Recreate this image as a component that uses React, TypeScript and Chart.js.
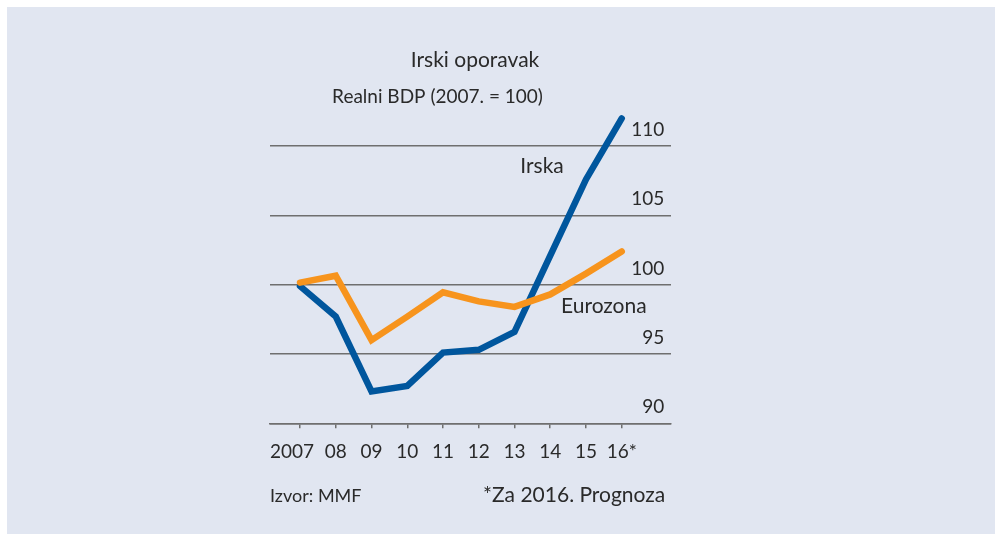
import React, { useEffect, useRef } from 'react';
import { Chart, registerables } from 'chart.js';

Chart.register(...registerables);

// ---- data ----
const years = ['2007', '08', '09', '10', '11', '12', '13', '14', '15', '16*'];
const irska = [99.9, 97.7, 92.3, 92.7, 95.1, 95.3, 96.6, 102.1, 107.6, 112.0];
const eurozona = [100.15, 100.65, 96.0, 97.7, 99.45, 98.8, 98.4, 99.3, 100.8, 102.4];
const yTicks = [90, 95, 100, 105, 110];

const titleText = 'Irski oporavak';
const subtitleText = 'Realni BDP (2007. = 100)';
const irskaLabel = 'Irska';
const eurozonaLabel = 'Eurozona';
const sourceText = 'Izvor: MMF';
const noteText = '*Za 2016. Prognoza';

// ---- styles ----
const BG = '#e1e6f1';
const BLUE = '#00569d';
const ORANGE = '#f7941d';
const GRID = '#6f6f6f';
const TEXT = '#2a2a2a';
const FONT = 'Lato';

export default function App() {
  const ref = useRef<HTMLCanvasElement>(null);

  useEffect(() => {
    const textPlugin = {
      id: 'texts',
      afterDraw(chart: any) {
        const ctx = chart.ctx as CanvasRenderingContext2D;
        const ca = chart.chartArea;
        const yScale = chart.scales.y;
        const xScale = chart.scales.x;
        ctx.save();
        ctx.fillStyle = TEXT;
        ctx.textBaseline = 'alphabetic';

        // y tick labels, right aligned above gridlines
        ctx.font = `19px ${FONT}`;
        ctx.textAlign = 'right';
        yTicks.forEach((v) => {
          ctx.fillText(String(v), ca.right - 6.5, yScale.getPixelForValue(v) - 10);
        });

        // x tick labels: first one starts at the plot's left edge, others centred on ticks
        ctx.font = `19px ${FONT}`;
        xScale.ticks.forEach((t: any, i: number) => {
          const label = years[t.value];
          if (label === undefined) return;
          if (i === 0) {
            ctx.textAlign = 'left';
            ctx.fillText(label, ca.left, ca.bottom + 34.4);
          } else {
            ctx.textAlign = 'center';
            ctx.fillText(label, xScale.getPixelForValue(t.value), ca.bottom + 34.4);
          }
        });

        // title / subtitle
        ctx.textAlign = 'center';
        ctx.font = `21px ${FONT}`;
        ctx.fillText(titleText, 468, 60);
        ctx.font = `19px ${FONT}`;
        ctx.fillText(subtitleText, 430.5, 96);

        // series labels
        ctx.font = `21px ${FONT}`;
        ctx.fillText(irskaLabel, xScale.getPixelForValue(6.77), yScale.getPixelForValue(108.06));
        ctx.fillText(eurozonaLabel, xScale.getPixelForValue(8.5), yScale.getPixelForValue(97.96));

        // footer
        ctx.font = `18px ${FONT}`;
        ctx.textAlign = 'left';
        ctx.fillText(sourceText, ca.left, 495);
        ctx.font = `21px ${FONT}`;
        ctx.textAlign = 'right';
        ctx.fillText(noteText, ca.right - 5.5, 495);
        ctx.restore();
      },
    };

    const chart = new Chart(ref.current!, {
      type: 'line',
      data: {
        datasets: [
          {
            label: eurozonaLabel,
            data: eurozona.map((v, i) => ({ x: i, y: v })),
            borderColor: ORANGE,
            borderWidth: 6.5,
            pointRadius: 0,
            tension: 0,
            borderJoinStyle: 'miter',
            borderCapStyle: 'round',
            clip: false,
          },
          {
            label: irskaLabel,
            data: irska.map((v, i) => ({ x: i, y: v })),
            borderColor: BLUE,
            borderWidth: 6.5,
            pointRadius: 0,
            tension: 0,
            borderJoinStyle: 'miter',
            borderCapStyle: 'round',
            clip: false,
          },
        ],
      },
      options: {
        responsive: false,
        animation: false,
        events: [],
        layout: { padding: { left: 263, right: 324.3, top: 104.5, bottom: 0 } },
        plugins: {
          legend: { display: false },
          tooltip: { enabled: false },
          title: { display: false },
        },
        scales: {
          x: {
            type: 'linear',
            position: 'bottom',
            min: -0.84,
            max: 10.37,
            offset: false,
            afterBuildTicks: (s: any) => {
              s.ticks = years.map((_, i) => ({ value: i }));
            },
            afterFit: (s: any) => {
              s.height = 110.7;
            },
            ticks: { display: false },
            grid: {
              drawOnChartArea: false,
              drawTicks: true,
              tickLength: 5,
              color: GRID,
              lineWidth: 1.5,
            },
            border: { display: true, color: GRID, width: 1.5 },
          },
          y: {
            type: 'linear',
            position: 'right',
            min: 90,
            max: 112.5,
            afterBuildTicks: (s: any) => {
              s.ticks = yTicks.map((v) => ({ value: v }));
            },
            afterFit: (s: any) => {
              s.width = 0;
            },
            ticks: { display: false },
            grid: { drawTicks: false, color: GRID, lineWidth: 1.5 },
            border: { display: false },
          },
        },
      },
      plugins: [textPlugin],
    } as any);
    return () => chart.destroy();
  }, []);

  return (
    <div style={{ position: 'fixed', left: 0, top: 0, width: 995, height: 534, background: '#ffffff' }}>
      <div style={{ position: 'absolute', left: 7, top: 7, width: 988, height: 527, background: BG }}>
        <canvas ref={ref} width={988} height={527} style={{ display: 'block' }} />
      </div>
    </div>
  );
}
